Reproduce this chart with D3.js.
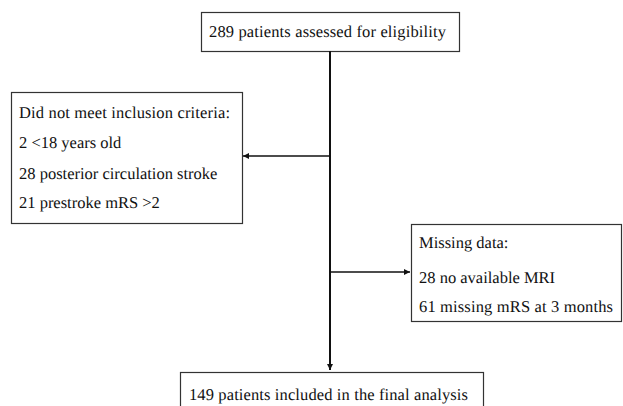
<!DOCTYPE html>
<html><head><meta charset="utf-8">
<script src="https://cdn.jsdelivr.net/npm/d3@7"></script>
<style>html,body{margin:0;padding:0;background:#fff;}svg{display:block;}</style>
</head><body>
<svg id="c" width="623" height="406"></svg>
<script>
// Flowchart content
const topBox = ["289 patients assessed for eligibility"];
const excludedBox = ["Did not meet inclusion criteria:", "2 <18 years old", "28 posterior circulation stroke", "21 prestroke mRS >2"];
const missingBox = ["Missing data:", "28 no available MRI", "61 missing mRS at 3 months"];
const finalBox = ["149 patients included in the final analysis"];

const svg = d3.select("#c");
const defs = svg.append("defs");
defs.append("marker").attr("id","ah").attr("viewBox","0 0 10 10").attr("refX",10).attr("refY",5)
  .attr("markerWidth",6).attr("markerHeight",6).attr("markerUnits","userSpaceOnUse").attr("orient","auto")
  .append("path").attr("d","M0,0L10,5L0,10z").attr("fill","#111");

// layout boxes
const boxes = [
  {lines: topBox, x0:201, y0:12, x1:459, y1:51, tx:209, ty:[37], w:[237]},
  {lines: excludedBox, x0:11, y0:92, x1:242, y1:223, tx:19, ty:[118,148,179,208], w:[211,null,null,null]},
  {lines: missingBox, x0:411, y0:224, x1:621, y1:321, tx:419, ty:[248,283,312], w:[null,null,194]},
  {lines: finalBox, x0:180, y0:372, x1:483, y1:420, tx:189, ty:[400], w:[279]}
];

const g = svg.selectAll("g.box").data(boxes).join("g").attr("class","box");
g.append("rect").attr("x",d=>d.x0+0.5).attr("y",d=>d.y0+0.5)
  .attr("width",d=>d.x1-d.x0).attr("height",d=>d.y1-d.y0)
  .attr("fill","#fff").attr("stroke","#333").attr("stroke-width",1.2);
g.each(function(d){
  d3.select(this).selectAll("text").data(d.lines).join("text")
    .attr("x",d.tx).attr("y",(t,i)=>d.ty[i])
    .attr("text-rendering","geometricPrecision")
    .style("font-family",'"Liberation Serif"')
    .style("font-size","16.5px").attr("fill","#111")
    .text(t=>t)
    .each(function(t,i){ if(d.w[i]) d3.select(this).attr("textLength",d.w[i]).attr("lengthAdjust","spacing"); });
});

// connectors
const cx = 330;
svg.append("line").attr("x1",cx).attr("y1",51).attr("x2",cx).attr("y2",370)
  .attr("stroke","#111").attr("stroke-width",2).attr("marker-end","url(#ah)");
svg.append("line").attr("x1",cx).attr("y1",156).attr("x2",243).attr("y2",156)
  .attr("stroke","#111").attr("stroke-width",1.5).attr("marker-end","url(#ah)");
svg.append("line").attr("x1",cx).attr("y1",272).attr("x2",410).attr("y2",272)
  .attr("stroke","#111").attr("stroke-width",1.5).attr("marker-end","url(#ah)");
</script>
</body></html>
